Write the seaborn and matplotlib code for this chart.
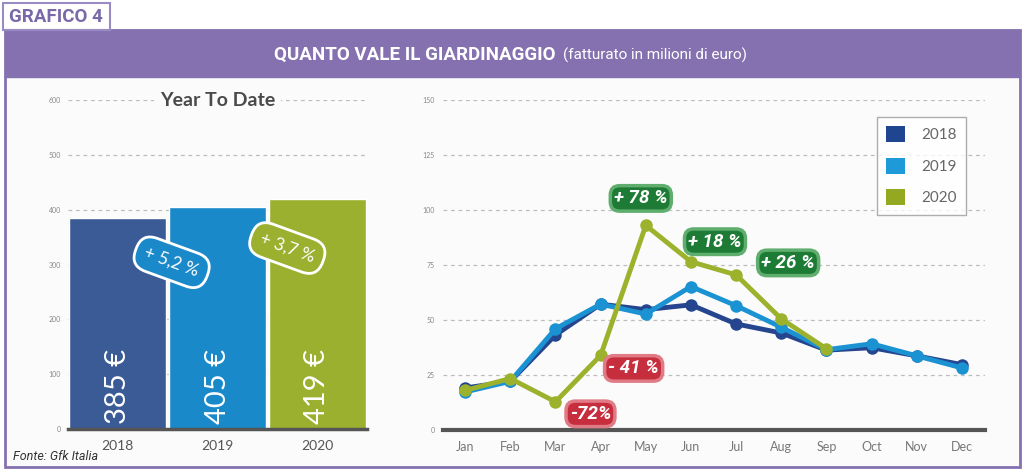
import matplotlib.pyplot as plt
import matplotlib.patches as mpatches
import seaborn as sns
import pandas as pd

# dati - Year To Date (milioni di euro)
anni = ['2018', '2019', '2020']
ytd = [385, 405, 419]
ytd_etichette = ['385 €', '405 €', '419 €']
ytd_variazioni = ['+ 5,2 %', '+ 3,7 %']

# dati mensili
mesi = ['Jan', 'Feb', 'Mar', 'Apr', 'May', 'Jun', 'Jul', 'Aug', 'Sep', 'Oct', 'Nov', 'Dec']
fatt_2018 = [19.1, 22.1, 43.2, 57.2, 54.7, 56.9, 48.2, 44.1, 36.3, 37.4, 33.7, 29.7]
fatt_2019 = [17.3, 22.1, 46.0, 57.2, 52.7, 65.2, 56.5, 46.7, 36.5, 39.2, 33.7, 28.2]
fatt_2020 = [18.0, 23.4, 12.8, 33.9, 93.0, 76.5, 70.5, 50.5, 36.9]
var_mesi = ['Mar', 'Apr', 'May', 'Jun', 'Jul']
var_2020 = ['-72%', '- 41 %', '+ 78 %', '+ 18 %', '+ 26 %']

colori_barre = ['#3b5b97', '#1a89ca', '#9bb02f']
colori_linee = {'2018': '#25468f', '2019': '#1b92d2', '2020': '#9cb22c'}
colori_legenda = ['#1f4590', '#1e9ad8', '#95a822']
VIOLA = '#8571b0'

sns.set_theme(style='white')
plt.rcParams['font.family'] = ['Lato', 'DejaVu Sans']
NARROW = ['Roboto', 'DejaVu Sans']

fig = plt.figure(figsize=(10.24, 4.75), dpi=100)
W, H = 1024, 475


def px(x, y):
    """coordinate pixel -> figura"""
    return x / W, 1 - y / H


# cornice e intestazione
fig.patches.append(mpatches.Rectangle(px(5, 467), 1015 / W, 437 / H, transform=fig.transFigure,
                                      facecolor='#fcfbfc', edgecolor=VIOLA, linewidth=2, zorder=-10))
fig.patches.append(mpatches.Rectangle(px(5, 77), 1015 / W, 47 / H, transform=fig.transFigure,
                                      facecolor=VIOLA, edgecolor=VIOLA, linewidth=1, zorder=-5))
fig.patches.append(mpatches.Rectangle(px(3, 30), 107 / W, 27 / H, transform=fig.transFigure,
                                      facecolor='white', edgecolor='#9a8cc2', linewidth=1.5, zorder=-5))
fig.text(*px(56, 17), 'GRAFICO 4', family=NARROW, weight='bold', size=13.5, color='#7a69a8',
         ha='center', va='center')
fig.text(*px(556, 55), 'QUANTO VALE IL GIARDINAGGIO', family=NARROW, weight='bold', size=13.5,
         color='white', ha='right', va='center')
fig.text(*px(563, 55), '(fatturato in milioni di euro)', family=NARROW, size=11,
         color='white', ha='left', va='center')
fig.text(*px(13, 457), 'Fonte: Gfk Italia', family=NARROW, style='italic', size=9,
         color='#333333', ha='left', va='center')

# grafico a barre Year To Date
ax1 = fig.add_axes([68 / W, (475 - 429) / H, 299 / W, 329 / H])
ax1.set_facecolor('none')
df_ytd = pd.DataFrame({'anno': anni, 'valore': ytd})
sns.barplot(data=df_ytd, x='anno', y='valore', hue='anno', palette=colori_barre,
            width=0.97, legend=False, ax=ax1, zorder=2, saturation=1)
ax1.set_ylim(0, 600)
ax1.set_xlim(-0.5, 2.5)
ax1.set_yticks(range(0, 601, 100))
ax1.yaxis.grid(True, linestyle=(0, (3, 3)), color='#bdbdbd', linewidth=0.9, zorder=0)
ax1.set_axisbelow(True)
ax1.set_xlabel('')
ax1.set_ylabel('')
for s in ['top', 'right', 'left']:
    ax1.spines[s].set_visible(False)
ax1.spines['bottom'].set_color('#555555')
ax1.spines['bottom'].set_linewidth(2.5)
ax1.tick_params(axis='y', labelsize=5, colors='#888888', length=0, pad=5)
ax1.tick_params(axis='x', labelsize=10, colors='#555555', length=0, pad=8)
ax1.set_xticks([-0.5, 0.5, 1.5, 2.5], minor=True)
ax1.tick_params(axis='x', which='minor', length=4, width=1.5, color='#555555', direction='out')

for i, lab in enumerate(ytd_etichette):
    ax1.text(i, 78, lab, rotation=90, ha='center', va='center', color='white', size=21, zorder=5)

ax1.text(1.0, 600, 'Year To Date', ha='center', va='center', size=14, weight='bold',
         color='#4a4a4a', zorder=5,
         bbox=dict(boxstyle='square,pad=0.3', facecolor='#fcfbfc', edgecolor='none'))

# badge variazioni
badge_pos = [(0.54, 304, colori_barre[1]), (1.70, 330, colori_barre[2])]
for lab, (bx, by, col) in zip(ytd_variazioni, badge_pos):
    ax1.text(bx, by, lab, rotation=-20, rotation_mode='anchor', ha='center', va='center',
             size=12.5, color='white', zorder=6,
             bbox=dict(boxstyle='round,pad=0.55,rounding_size=0.95', facecolor=col,
                       edgecolor='white', linewidth=2))

# grafico a linee mensile
ax2 = fig.add_axes([443 / W, (475 - 430) / H, 542 / W, 330 / H])
ax2.set_facecolor('none')
df_mesi = pd.concat([
    pd.DataFrame({'mese': mesi, 'valore': fatt_2018, 'anno': '2018'}),
    pd.DataFrame({'mese': mesi, 'valore': fatt_2019, 'anno': '2019'}),
    pd.DataFrame({'mese': mesi[:len(fatt_2020)], 'valore': fatt_2020, 'anno': '2020'}),
])
sns.lineplot(data=df_mesi, x='mese', y='valore', hue='anno', palette=colori_linee,
             marker='o', markersize=9, markeredgewidth=0, linewidth=3.5, sort=False,
             legend=False, ax=ax2, zorder=3)
ax2.set_ylim(0, 150)
ax2.set_xlim(-0.49, 11.51)
ax2.set_yticks(range(0, 151, 25))
ax2.yaxis.grid(True, linestyle=(0, (3, 3)), color='#bdbdbd', linewidth=0.9)
ax2.set_axisbelow(True)
ax2.set_xlabel('')
ax2.set_ylabel('')
for s in ['top', 'right', 'left']:
    ax2.spines[s].set_visible(False)
ax2.spines['bottom'].set_color('#555555')
ax2.spines['bottom'].set_linewidth(3)
ax2.tick_params(axis='y', labelsize=5, colors='#888888', length=0, pad=6)
ax2.tick_params(axis='x', labelsize=9, colors='#777777', length=0, pad=8)

# etichette variazioni 2020
offsets = {'Mar': (35, -12), 'Apr': (33, -13), 'May': (-5, 27), 'Jun': (24, 20), 'Jul': (52, 12)}
for m, lab in zip(var_mesi, var_2020):
    i = mesi.index(m)
    col = '#c62d3d' if lab.startswith('-') else '#1e7b35'
    glow = '#e07a84' if lab.startswith('-') else '#5fae6d'
    ax2.annotate(lab, xy=(i, fatt_2020[i]), xytext=offsets[m], textcoords='offset pixels',
                 ha='center', va='center', size=13.5, weight='bold', style='italic',
                 family=NARROW, color='white', zorder=7,
                 bbox=dict(boxstyle='round,pad=0.2,rounding_size=0.5', facecolor=col,
                           edgecolor=glow, linewidth=2.5))

# legenda
handles = [mpatches.Patch(facecolor=c, edgecolor='none', label=a)
           for a, c in zip(anni, colori_legenda)]
leg = ax2.legend(handles=handles, loc='upper left', bbox_to_anchor=((877 - 443) / 542, (430 - 117) / 330),
                 frameon=True, fancybox=False, fontsize=11, handlelength=1.25, handleheight=1.25,
                 handletextpad=1.05, labelspacing=1.0, borderpad=0.6, borderaxespad=0)
leg.get_frame().set_edgecolor('#9a9a9a')
leg.get_frame().set_linewidth(1)
for t in leg.get_texts():
    t.set_color('#666666')

fig.savefig('out.png', dpi=100, facecolor='white')
